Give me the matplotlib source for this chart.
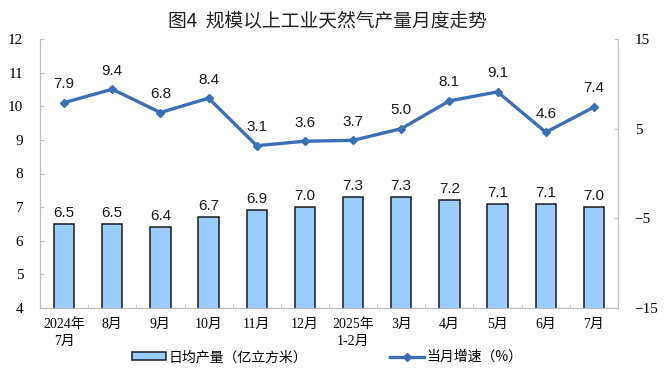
import matplotlib
matplotlib.use("Agg")
import matplotlib.pyplot as plt
import numpy as np
from matplotlib.lines import Line2D
from matplotlib.patches import Patch

plt.rcParams['font.family'] = ['Noto Sans CJK SC', 'DejaVu Sans']

categories = ["2024年\n7月", "8月", "9月", "10月", "11月", "12月", "2025年\n1-2月",
              "3月", "4月", "5月", "6月", "7月"]
daily_output = [6.5, 6.5, 6.4, 6.7, 6.9, 7.0, 7.3, 7.3, 7.2, 7.1, 7.1, 7.0]
monthly_growth = [7.9, 9.4, 6.8, 8.4, 3.1, 3.6, 3.7, 5.0, 8.1, 9.1, 4.6, 7.4]

bar_label = "日均产量（亿立方米）"
line_label = "当月增速（%）"
title = "图4  规模以上工业天然气产量月度走势"

bar_color = "#99CCFF"
line_color = "#3B6FB6"
spine_color = "#BFBFBF"

fig = plt.figure(figsize=(6.64, 3.88), dpi=100)
ax = fig.add_axes([40/664, 1-308/388, (618-40)/664, (308-39)/388])
ax2 = ax.twinx()

x = np.arange(len(categories))
ax.bar(x, daily_output, width=0.42, color=bar_color, edgecolor="#1A1A1A", linewidth=1.1, zorder=2)
for xi, v in zip(x, daily_output):
    ax.text(xi, v + 0.12, f"{v:.1f}", ha="center", va="bottom", fontsize=11,
            family=["Liberation Sans"], color="#1A1A1A")

ax.set_ylim(4, 12)
ax.set_yticks(range(4, 13))
ax.set_xlim(-0.5, len(categories) - 0.5)
ax.set_xticks(x)
ax.set_xticklabels(categories, family=["Liberation Serif", "Noto Sans CJK SC"], fontsize=10,
                   linespacing=1.45)
ax.set_xticks(np.arange(-0.5, len(categories), 1), minor=True)
ax.tick_params(axis="x", which="major", length=0, pad=7)
ax.tick_params(axis="x", which="minor", length=3, direction="in", color=spine_color)
ax.tick_params(axis="y", length=3, direction="in", color=spine_color, pad=12)
for lbl in ax.get_yticklabels():
    lbl.set_family(["Liberation Serif"])
    lbl.set_fontsize(11)

ax2.plot(x, monthly_growth, color=line_color, linewidth=2.4, marker="D", markersize=4, zorder=3)
for xi, v in zip(x, monthly_growth):
    ax2.text(xi, v + 1.3, f"{v:.1f}", ha="center", va="bottom", fontsize=11,
             family=["Liberation Sans"], color="#1A1A1A")
ax2.set_ylim(-15, 15)
ax2.set_yticks([-15, -5, 5, 15])
ax2.tick_params(axis="y", length=3, direction="in", color=spine_color, pad=12)
for lbl in ax2.get_yticklabels():
    lbl.set_family(["Liberation Serif"])
    lbl.set_fontsize(11)

for a in (ax, ax2):
    a.spines["top"].set_visible(False)
    for s in ("left", "right", "bottom"):
        a.spines[s].set_color(spine_color)
        a.spines[s].set_linewidth(0.8)

fig.text(0.493, 1 - 21/388, title, ha="center", va="center", fontsize=13.5, fontweight="medium",
         color="#222222")

handles = [Patch(facecolor=bar_color, edgecolor="#1A1A1A", linewidth=1.1),
           Line2D([0], [0], color=line_color, linewidth=2.4, marker="D", markersize=4)]
fig.legend(handles, [bar_label, line_label], loc="center", bbox_to_anchor=(0.493, 1 - 357/388),
           ncol=2, frameon=False, fontsize=10, handlelength=2.4, handleheight=0.5,
           columnspacing=6.0, handletextpad=0.2)

fig.savefig("out.png", dpi=100)
